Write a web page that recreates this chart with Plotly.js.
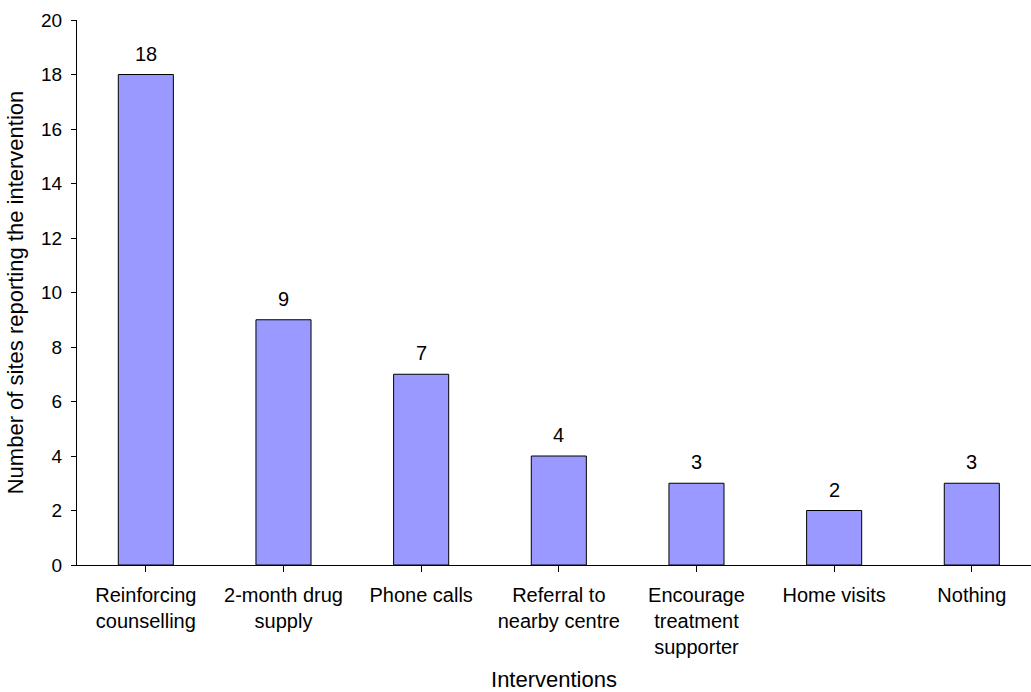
<!DOCTYPE html>
<html>
<head>
<meta charset="utf-8">
<script src="https://cdn.plot.ly/plotly-3.0.1.min.js"></script>
<style>
  html, body { margin: 0; padding: 0; background: #ffffff; overflow: hidden; }
  #chart { width: 1031px; height: 692px; }
</style>
</head>
<body>
<div id="chart"></div>
<script>
// Interventions reported by sites, one bar per intervention
const interventions = [
  "Reinforcing<br>counselling",
  "2-month drug<br>supply",
  "Phone calls",
  "Referral to<br>nearby centre",
  "Encourage<br>treatment<br>supporter",
  "Home visits",
  "Nothing"
];
const siteCounts = [18, 9, 7, 4, 3, 2, 3];
const yTickValues = [0, 2, 4, 6, 8, 10, 12, 14, 16, 18, 20];

const FONT = "Liberation Sans, Arial, sans-serif";
const xIdx = interventions.map((_, i) => i);

const bars = {
  type: "bar",
  x: xIdx,
  y: siteCounts,
  width: 0.4,
  marker: { color: "#9999FF", line: { color: "#000000", width: 1 } },
  hoverinfo: "skip"
};

// value labels sit just above each bar
const valueLabels = siteCounts.map((v, i) => ({
  x: i, y: v, xref: "x", yref: "y",
  text: String(v), showarrow: false,
  yanchor: "bottom", yshift: 8,
  font: { family: FONT, size: 20, color: "#000000" }
}));

const layout = {
  width: 1031,
  height: 692,
  margin: { l: 77, r: 0, t: 20, b: 127 },
  paper_bgcolor: "#ffffff",
  plot_bgcolor: "#ffffff",
  showlegend: false,
  font: { family: FONT, color: "#000000" },
  xaxis: {
    range: [-0.5, 6.43],
    tickmode: "array",
    tickvals: xIdx,
    ticktext: interventions,
    tickson: "boundaries",
    ticks: "outside",
    ticklen: 6,
    tickcolor: "#000000",
    ticklabelstandoff: 6,
    tickfont: { family: FONT, size: 20, color: "#000000" },
    showline: true, linecolor: "#000000", linewidth: 1,
    showgrid: false, zeroline: false, fixedrange: true,
    title: { text: "Interventions", font: { family: FONT, size: 22, color: "#000000" }, standoff: 20 }
  },
  yaxis: {
    range: [0, 20],
    tickmode: "array",
    tickvals: yTickValues,
    ticks: "outside",
    ticklen: 5,
    tickcolor: "#000000",
    ticklabelstandoff: 5,
    tickfont: { family: FONT, size: 19, color: "#000000" },
    showline: true, linecolor: "#000000", linewidth: 1,
    showgrid: false, zeroline: false, fixedrange: true,
    title: { text: "Number of sites reporting the intervention", font: { family: FONT, size: 22, color: "#000000" } }
  },
  annotations: valueLabels
};

Plotly.newPlot("chart", [bars], layout, { displayModeBar: false, staticPlot: true });
</script>
</body>
</html>
